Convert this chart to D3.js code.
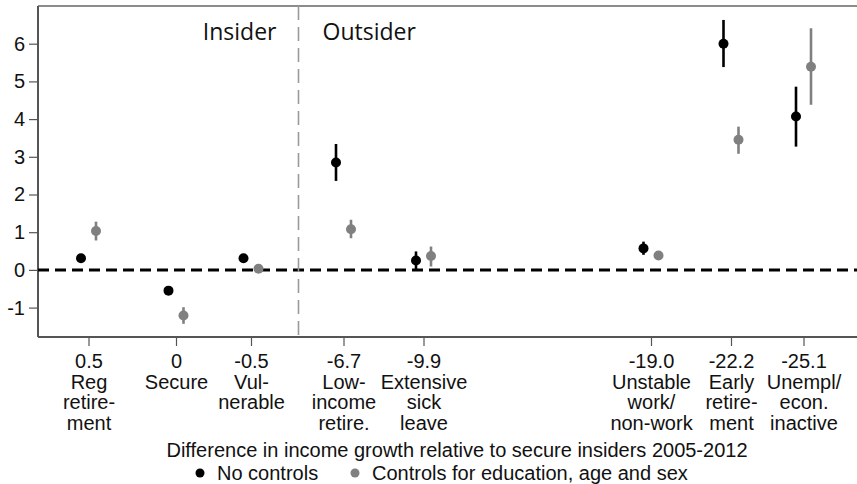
<!DOCTYPE html>
<html>
<head>
<meta charset="utf-8">
<script src="https://cdn.jsdelivr.net/npm/d3@7"></script>
<style>
  html, body { margin: 0; padding: 0; background: #fff; }
  svg { display: block; }
  text { font-family: "Liberation Sans", Arial, sans-serif; fill: #111; }
</style>
</head>
<body>
<svg id="chart" width="857" height="484"></svg>
<script>
// Groups: income growth difference (tick value) and label lines
const groupValues = ["0.5", "0", "-0.5", "-6.7", "-9.9", "-19.0", "-22.2", "-25.1"];
const groupLabels = [
  ["Reg", "retire-", "ment"],
  ["Secure"],
  ["Vul-", "nerable"],
  ["Low-", "income", "retire."],
  ["Extensive", "sick", "leave"],
  ["Unstable", "work/", "non-work"],
  ["Early", "retire-", "ment"],
  ["Unempl/", "econ.", "inactive"]
];
// Placement along the income-growth axis (insider groups spread apart for legibility)
const axisPos = [3.5, 0, -3, -6.7, -9.9, -19.0, -22.2, -25.1];
const groupType = ["Insider", "Insider", "Insider", "Outsider", "Outsider", "Outsider", "Outsider", "Outsider"];

// Estimates: no controls
const noCtrl    = [0.31, -0.55, 0.31, 2.85, 0.25, 0.57, 6.00, 4.07];
const noCtrlLo  = [0.24, -0.62, 0.24, 2.36, 0.01, 0.40, 5.38, 3.27];
const noCtrlHi  = [0.38, -0.48, 0.38, 3.34, 0.49, 0.75, 6.63, 4.86];
// Estimates: controls for education, age and sex
const ctrl      = [1.03, -1.21, 0.03, 1.08, 0.37, 0.38, 3.45, 5.39];
const ctrlLo    = [0.78, -1.43, -0.04, 0.84, 0.09, 0.31, 3.08, 4.38];
const ctrlHi    = [1.28, -0.99, 0.10, 1.33, 0.62, 0.45, 3.80, 6.41];

const yTicks = [-1, 0, 1, 2, 3, 4, 5, 6];
const dividerPos = -4.9;
const seriesNames = ["No controls", "Controls for education, age and sex"];
const axisTitle = "Difference in income growth relative to secure insiders 2005-2012";

const svg = d3.select("#chart");
const m = { left: 38, top: 6, right: 860, bottom: 337 };

const x = d3.scaleLinear().domain([5.52, -27.36]).range([m.left, m.right]);
const y = d3.scaleLinear().domain([-1.78, 7.0]).range([m.bottom, m.top]);

const colors = ["#000000", "#808080"];
const offset = 7.5;
const fs = "20px";

// frame: lighter top/right, darker left/bottom axes
svg.append("path")
  .attr("d", `M${m.left},${m.top}H${m.right}V${m.bottom}`)
  .attr("fill", "none").attr("stroke", "#8c8c8c").attr("stroke-width", 2);

// y axis
const yAxis = svg.append("g").attr("transform", `translate(${m.left},0)`)
  .call(d3.axisLeft(y).tickValues(yTicks).tickSize(9).tickPadding(4)
    .tickFormat(d => String(d)));
yAxis.select(".domain").attr("stroke", "#555").attr("stroke-width", 2)
  .attr("d", `M0,${m.top}V${m.bottom}`);
yAxis.selectAll(".tick line").attr("stroke", "#555").attr("stroke-width", 1.2);
yAxis.selectAll(".tick text").style("font-size", fs).attr("fill", "#111")
  .style("font-family", "'Liberation Sans', Arial, sans-serif");

// x axis with multi-line category labels
const xAxis = svg.append("g").attr("transform", `translate(0,${m.bottom})`)
  .call(d3.axisBottom(x).tickValues(axisPos).tickSize(9).tickFormat(() => ""));
xAxis.select(".domain").attr("stroke", "#555").attr("stroke-width", 2)
  .attr("d", `M${m.left},0H${m.right}`);
xAxis.selectAll(".tick line").attr("stroke", "#555").attr("stroke-width", 1.2);
xAxis.selectAll(".tick").each(function(d, i) {
  const t = d3.select(this).append("text")
    .attr("text-anchor", "middle")
    .style("font-size", fs)
    .style("font-family", "'Liberation Sans', Arial, sans-serif")
    .attr("fill", "#111");
  [groupValues[i]].concat(groupLabels[i]).forEach((line, k) => {
    t.append("tspan").attr("x", 0).attr("y", 31 + k * 20.5).text(line);
  });
});

// zero reference line
svg.append("line")
  .attr("x1", m.left).attr("x2", m.right)
  .attr("y1", y(0)).attr("y2", y(0))
  .attr("stroke", "#000").attr("stroke-width", 3)
  .attr("stroke-dasharray", "11,6");

// insider / outsider divider
svg.append("line")
  .attr("x1", x(dividerPos)).attr("x2", x(dividerPos))
  .attr("y1", m.top).attr("y2", m.bottom)
  .attr("stroke", "#9a9a9a").attr("stroke-width", 1.6)
  .attr("stroke-dasharray", "14,7");

// section headings
const headFont = "'Open Sans', 'Noto Sans', sans-serif";
svg.append("text").attr("x", x(dividerPos) - 22).attr("y", 40)
  .attr("text-anchor", "end").style("font-family", headFont).style("font-size", "23px")
  .text(groupType[0]);
svg.append("text").attr("x", x(dividerPos) + 24).attr("y", 40)
  .attr("text-anchor", "start").style("font-family", headFont).style("font-size", "23px")
  .text(groupType[3]);

// estimates with confidence intervals
const series = [
  { est: noCtrl, lo: noCtrlLo, hi: noCtrlHi, dx: -offset, color: colors[0], w: 2.6 },
  { est: ctrl, lo: ctrlLo, hi: ctrlHi, dx: offset, color: colors[1], w: 2.6 }
];
series.forEach(s => {
  const g = svg.append("g");
  g.selectAll("line").data(axisPos).join("line")
    .attr("x1", (d) => x(d) + s.dx).attr("x2", (d) => x(d) + s.dx)
    .attr("y1", (d, i) => y(s.lo[i])).attr("y2", (d, i) => y(s.hi[i]))
    .attr("stroke", s.color).attr("stroke-width", s.w);
  g.selectAll("circle").data(axisPos).join("circle")
    .attr("cx", (d) => x(d) + s.dx)
    .attr("cy", (d, i) => y(s.est[i]))
    .attr("r", 5)
    .attr("fill", s.color);
});

// axis title
svg.append("text").attr("x", 457).attr("y", 457)
  .attr("text-anchor", "middle").style("font-size", fs)
  .text(axisTitle);

// legend
const legend = svg.append("g");
const legendX = [200, 355];
seriesNames.forEach((name, i) => {
  legend.append("circle").attr("cx", legendX[i]).attr("cy", 473).attr("r", 4.5).attr("fill", colors[i]);
  legend.append("text").attr("x", legendX[i] + 17).attr("y", 480)
    .style("font-size", fs).text(name);
});
</script>
</body>
</html>
